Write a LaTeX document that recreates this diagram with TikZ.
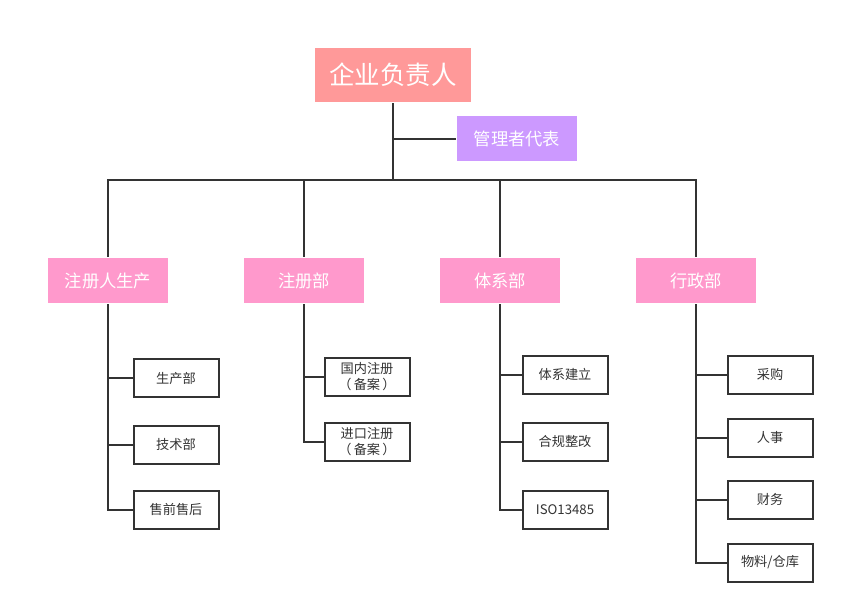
\documentclass[tikz,border=0pt]{standalone}
\usepackage{fontspec}
\usepackage{tikz}
\newfontfamily\cjk{Noto Sans CJK SC}
\definecolor{headred}{HTML}{FF9999}
\definecolor{repviolet}{HTML}{CC99FF}
\definecolor{deptpink}{HTML}{FF99CC}
\definecolor{linegray}{HTML}{333333}

\begin{document}
\begin{tikzpicture}[x=1pt, y=-1pt, font=\cjk, line width=2pt, draw=linegray,
    headbox/.style={fill=headred, text=white, minimum width=156pt, minimum height=54pt, inner sep=0pt, font=\cjk\fontsize{25.5}{30}\selectfont},
    repbox/.style={fill=repviolet, text=white, minimum width=120pt, minimum height=45pt, inner sep=0pt, font=\cjk\fontsize{17.3}{20}\selectfont},
    deptbox/.style={fill=deptpink, text=white, minimum width=120pt, minimum height=45pt, inner sep=0pt, font=\cjk\fontsize{17.3}{20}\selectfont},
    unitbox/.style={draw=linegray, fill=white, text=linegray, line width=2pt, minimum width=85pt, minimum height=38pt, inner sep=0pt, align=center, font=\cjk\fontsize{13.2}{16}\selectfont}]
    \useasboundingbox (0,0) rectangle (845,613);

    % top
    \node[headbox] (ceo) at (393,75) {企业负责人};
    \node[repbox] (rep) at (517,138.5) {管理者代表};
    \coordinate (bar) at (393,180);

    % departments
    \node[deptbox] (reg) at (108,280.5) {注册人生产};
    \node[deptbox] (regd) at (304,280.5) {注册部};
    \node[deptbox] (qms) at (500,280.5) {体系部};
    \node[deptbox] (adm) at (696,280.5) {行政部};

    % units
    \node[unitbox] (prod) at (176,378) {生产部};
    \node[unitbox] (tech) at (176,444.5) {技术部};
    \node[unitbox] (sale) at (176,509.5) {售前售后};

    \node[unitbox] (dom) at (367,377) {国内注册\\（\,备案\,）};
    \node[unitbox] (imp) at (367,442) {进口注册\\（\,备案\,）};

    \node[unitbox] (build) at (565,374.5) {体系建立};
    \node[unitbox] (fix) at (565,441.5) {合规整改};
    \node[unitbox] (iso) at (565,509.5) {ISO13485};

    \node[unitbox] (buy) at (770,374.5) {采购};
    \node[unitbox] (hr) at (770,437.5) {人事};
    \node[unitbox] (fin) at (770,499.5) {财务};
    \node[unitbox] (stock) at (770,562.5) {物料/仓库};

    % connectors
    \draw[linegray] (ceo.south) |- (rep.west);
    \draw[linegray] (ceo.south) -- (bar);
    \foreach \d in {reg, regd, qms, adm}
        \draw[linegray] (bar) -| (\d.north);
    \foreach \u in {prod, tech, sale}
        \draw[linegray] (reg.south) |- (\u.west);
    \foreach \u in {dom, imp}
        \draw[linegray] (regd.south) |- (\u.west);
    \foreach \u in {build, fix, iso}
        \draw[linegray] (qms.south) |- (\u.west);
    \foreach \u in {buy, hr, fin, stock}
        \draw[linegray] (adm.south) |- (\u.west);
\end{tikzpicture}
\end{document}
